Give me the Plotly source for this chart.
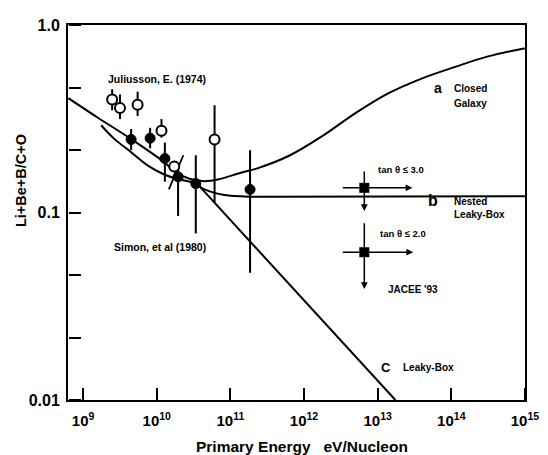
import math
import plotly.graph_objects as go

# ---------------- data ----------------
# Curve a : Closed Galaxy
closed_E = [6.3e8, 1.59e9, 4.45e9, 1.24e10, 1.87e10, 2.85e10, 4.49e10, 6.76e10,
            1.39e11, 2.32e11, 6.47e11, 1.81e12, 5.06e12, 1.41e13, 3.95e13,
            1.10e14, 3.08e14, 8.63e14, 1.0e15]
closed_R = [0.407, 0.320, 0.247, 0.1865, 0.162, 0.151, 0.147, 0.150,
            0.163, 0.172, 0.202, 0.257, 0.340, 0.433, 0.518,
            0.596, 0.678, 0.743, 0.75]

# common low-energy part of curves b and c
low_E = [1.76e9, 2.65e9, 4.45e9, 7.42e9, 1.24e10, 1.87e10, 3.46e10]
low_R = [0.292, 0.247, 0.2104, 0.179, 0.160, 0.1514, 0.1438]

# Curve b : Nested Leaky-Box (after branching)
nested_E = [3.46e10, 4.04e10, 5.79e10, 8.31e10, 1.80e11, 3.2e11, 1.0e15]
nested_R = [0.1438, 0.1355, 0.128, 0.124, 0.1215, 0.1212, 0.122]

# Curve c : Leaky-Box (after branching, straight power law)
leaky_E = [3.46e10, 1.74e13]
leaky_R = [0.1438, 0.01]

# Juliusson, E. (1974) - open circles
jul_E = [2.48e9, 3.17e9, 5.50e9, 1.16e10, 1.73e10, 6.1e10]
jul_R = [0.400, 0.361, 0.376, 0.273, 0.176, 0.245]
jul_lo = [0.351, 0.315, 0.327, 0.251, 0.176, 0.1135]
jul_hi = [0.454, 0.426, 0.441, 0.315, 0.176, 0.373]
# slanted bar drawn through the 5th open circle
slant_E = [1.46e10, 2.30e10]
slant_R = [0.1327, 0.202]

# Simon, et al (1980) - filled circles
sim_E = [4.49e9, 8.13e9, 1.29e10, 1.95e10, 3.39e10, 1.85e11]
sim_R = [0.245, 0.249, 0.194, 0.155, 0.1426, 0.1327]
sim_lo = [0.215, 0.220, 0.146, 0.0959, 0.0773, 0.0477]
sim_hi = [0.279, 0.283, 0.236, 0.179, 0.202, 0.215]

# JACEE '93 - squares with limit arrows
jac_E = [6.59e12, 6.59e12]
jac_R = [0.1354, 0.0614]
jac_E_left = [3.21e12, 3.21e12]
jac_E_right = [2.96e13, 3.03e13]
jac_R_top = [0.1687, 0.0892]
jac_R_bottom = [0.102, 0.0391]

x_tickvals = [1e9, 1e10, 1e11, 1e12, 1e13, 1e14, 1e15]
x_ticktext = ["10<sup>9</sup>", "10<sup>10</sup>", "10<sup>11</sup>", "10<sup>12</sup>",
              "10<sup>13</sup>", "10<sup>14</sup>", "10<sup>15</sup>"]
y_tickvals = [0.01, 10 ** (-5 / 3), 10 ** (-4 / 3), 0.1, 10 ** (-2 / 3), 10 ** (-1 / 3), 1.0]
y_ticktext = ["0.01", "", "", "0.1", "", "", "1.0"]

X_RANGE = [8.795, 15.001]
Y_RANGE = [-2, 0]

FONT = "Liberation Sans, Arial, Helvetica, sans-serif"
BLK = "black"

fig = go.Figure()

line_style = dict(color=BLK, width=2)
fig.add_trace(go.Scatter(x=closed_E, y=closed_R, mode="lines", line=line_style,
                         line_shape="spline", hoverinfo="skip"))
fig.add_trace(go.Scatter(x=low_E, y=low_R, mode="lines", line=line_style,
                         line_shape="spline", hoverinfo="skip"))
fig.add_trace(go.Scatter(x=nested_E, y=nested_R, mode="lines", line=line_style,
                         line_shape="spline", hoverinfo="skip"))
fig.add_trace(go.Scatter(x=leaky_E, y=leaky_R, mode="lines", line=line_style,
                         hoverinfo="skip"))
fig.add_trace(go.Scatter(x=slant_E, y=slant_R, mode="lines",
                         line=dict(color=BLK, width=1.8), hoverinfo="skip"))

# Simon filled circles
fig.add_trace(go.Scatter(
    x=sim_E, y=sim_R, mode="markers",
    marker=dict(symbol="circle", size=10, color=BLK, line=dict(color=BLK, width=1)),
    error_y=dict(type="data", symmetric=False,
                 array=[h - v for h, v in zip(sim_hi, sim_R)],
                 arrayminus=[v - l for l, v in zip(sim_lo, sim_R)],
                 color=BLK, thickness=2, width=0),
    hoverinfo="skip"))

# Juliusson open circles
fig.add_trace(go.Scatter(
    x=jul_E, y=jul_R, mode="markers",
    marker=dict(symbol="circle", size=10, color="white", line=dict(color=BLK, width=2)),
    error_y=dict(type="data", symmetric=False,
                 array=[h - v for h, v in zip(jul_hi, jul_R)],
                 arrayminus=[v - l for l, v in zip(jul_lo, jul_R)],
                 color=BLK, thickness=2, width=0),
    hoverinfo="skip"))

# JACEE squares
fig.add_trace(go.Scatter(
    x=jac_E, y=jac_R, mode="markers",
    marker=dict(symbol="square", size=10, color=BLK),
    hoverinfo="skip"))

# invisible trace on the overlay axes that carry the inward tick marks
fig.add_trace(go.Scatter(x=[jac_E[0]], y=[jac_R[0]], xaxis="x2", yaxis="y2",
                         mode="markers", marker=dict(opacity=0), hoverinfo="skip"))

annotations = []
# JACEE limit arrows
for i in range(len(jac_E)):
    lx = math.log10(jac_E[i])
    ly = math.log10(jac_R[i])
    annotations.append(dict(
        x=math.log10(jac_E_right[i]), y=ly, ax=math.log10(jac_E_left[i]), ay=ly,
        xref="x", yref="y", axref="x", ayref="y", text="", showarrow=True,
        arrowhead=2, arrowsize=0.9, arrowwidth=1.5, arrowcolor=BLK, standoff=0, startstandoff=0))
    annotations.append(dict(
        x=lx, y=math.log10(jac_R_bottom[i]), ax=lx, ay=math.log10(jac_R_top[i]),
        xref="x", yref="y", axref="x", ayref="y", text="", showarrow=True,
        arrowhead=2, arrowsize=0.9, arrowwidth=1.5, arrowcolor=BLK, standoff=0, startstandoff=0))


def label(text, x, y, size=10, xanchor="center"):
    annotations.append(dict(
        text=text, x=x, y=y, xref="paper", yref="paper", showarrow=False,
        xanchor=xanchor, yanchor="middle",
        font=dict(family=FONT, size=size, color=BLK, weight="bold")))


label("Juliusson, E. (1974)", 0.1946, 0.8564, size=10.5)
label("Simon, et al (1980)", 0.2022, 0.4073, size=10.5)
label("tan θ ≤ 3.0", 0.674, 0.6136, size=9.5, xanchor="left")
label("tan θ ≤ 2.0", 0.678, 0.4439, size=9.5, xanchor="left")
label("JACEE '93", 0.6957, 0.295, size=10, xanchor="left")
label("a", 0.8087, 0.831, size=14)
label("Closed", 0.8413, 0.831, size=10, xanchor="left")
label("Galaxy", 0.8413, 0.791, size=10, xanchor="left")
label("b", 0.798, 0.5326, size=16)
label("Nested", 0.8413, 0.530, size=10, xanchor="left")
label("Leaky-Box", 0.8413, 0.496, size=10, xanchor="left")
label("C", 0.6967, 0.0862, size=13)
label("Leaky-Box", 0.728, 0.0862, size=10, xanchor="left")

# axis titles
annotations.append(dict(
    text="Primary Energy\u00a0\u00a0\u00a0eV/Nucleon", x=0.511, y=-0.1227,
    xref="paper", yref="paper", showarrow=False, xanchor="center", yanchor="middle",
    font=dict(family=FONT, size=15.5, color=BLK, weight="bold")))
annotations.append(dict(
    text="Li+Be+B/C+O", x=-0.104, y=0.585, textangle=-90,
    xref="paper", yref="paper", showarrow=False, xanchor="center", yanchor="middle",
    font=dict(family=FONT, size=14.5, color=BLK, weight="bold")))

# the page body has an 8 px margin, so the figure is 8 px smaller on each side
fig.update_layout(
    width=540, height=447,
    margin=dict(l=60, r=17, t=9, b=55),
    paper_bgcolor="white", plot_bgcolor="white",
    showlegend=False,
    annotations=annotations,
    font=dict(family=FONT, color=BLK),
    xaxis=dict(
        type="log", range=X_RANGE,
        tickmode="array", tickvals=x_tickvals, ticktext=x_ticktext,
        ticks="outside", ticklen=6, tickwidth=1, tickcolor="rgba(0,0,0,0)",
        ticklabeloverflow="allow",
        showline=True, linewidth=2, linecolor=BLK, mirror=True,
        showgrid=False, zeroline=False,
        tickfont=dict(family=FONT, size=15, color=BLK, weight="bold"),
    ),
    yaxis=dict(
        type="log", range=Y_RANGE,
        tickmode="array", tickvals=y_tickvals, ticktext=y_ticktext,
        ticks="outside", ticklen=3, tickwidth=1, tickcolor="rgba(0,0,0,0)",
        showline=True, linewidth=2, linecolor=BLK, mirror=True,
        showgrid=False, zeroline=False,
        tickfont=dict(family=FONT, size=16, color=BLK, weight="bold"),
    ),
    # overlay axes: their "outside" ticks point into the plot from the bottom / left edges
    xaxis2=dict(
        type="log", range=X_RANGE, overlaying="x", anchor="free", position=0, side="top",
        tickmode="array", tickvals=x_tickvals,
        ticks="outside", ticklen=12, tickwidth=2, tickcolor=BLK,
        showticklabels=False, showline=False, showgrid=False, zeroline=False,
    ),
    yaxis2=dict(
        type="log", range=Y_RANGE, overlaying="y", anchor="free", position=0, side="right",
        tickmode="array", tickvals=y_tickvals,
        ticks="outside", ticklen=12, tickwidth=2, tickcolor=BLK,
        showticklabels=False, showline=False, showgrid=False, zeroline=False,
    ),
)

fig.write_html("out.html")
